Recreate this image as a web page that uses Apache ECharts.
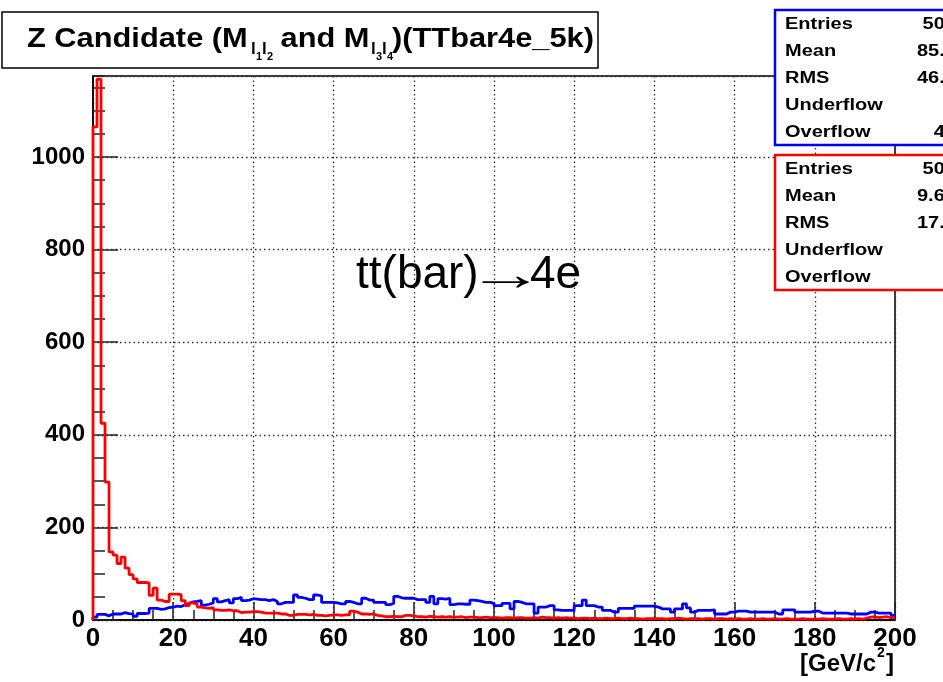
<!DOCTYPE html>
<html><head><meta charset="utf-8">
<script src="https://cdn.jsdelivr.net/npm/echarts@6/dist/echarts.min.js"></script>
<style>html,body{margin:0;padding:0;background:#fff}#c{width:943px;height:682px}</style>
</head><body><div id="c"></div>
<script>
// ---- data (1 GeV bins, 0..200) ----
const binWidth = 1;
const blueCounts = [
 6,12,12,9,13,13,13,16,14,13,
 8,14,14,15,25,25,23,24,27,28,
 30,29,33,36,39,40,42,32,34,37,
 46,39,42,44,37,46,49,42,43,46,
 45,44,44,42,44,40,35,38,38,38,
 54,49,47,44,44,54,52,38,38,38,
 37,35,35,40,38,35,35,47,43,43,
 38,38,38,33,36,51,48,47,47,47,
 44,44,44,38,51,35,46,45,47,33,
 35,35,34,34,43,42,40,38,38,36,
 31,31,36,36,24,40,38,35,35,35,
 15,28,28,31,31,22,21,21,21,21,
 31,31,43,31,31,28,28,21,21,17,
 17,25,25,25,25,30,30,30,30,30,
 28,24,24,24,17,24,24,35,26,17,
 21,21,21,21,22,13,13,13,17,17,
 19,19,19,17,17,17,17,17,17,17,
 13,13,22,22,22,17,17,17,17,19,
 19,15,15,15,15,15,15,15,13,13,
 13,13,13,17,17,15,15,15,15,10];
const redCounts = [
 1065,1168,425,298,147,140,122,136,112,98,
 89,81,81,80,53,69,43,40,40,56,
 56,55,42,31,37,34,28,26,25,27,
 22,21,21,22,20,20,16,17,17,18,
 18,17,15,15,15,15,13,13,10,10,
 12,12,12,11,12,10,10,9,10,11,
 11,10,11,11,19,17,13,13,12,13,
 10,9,7,7,8,7,7,10,10,9,
 7,7,6,8,7,6,7,6,7,6,
 6,7,5,6,6,5,5,6,5,5,
 5,4,5,5,4,5,5,4,4,5,
 4,6,5,5,4,5,4,5,4,4,
 3,4,4,3,4,3,3,4,3,3,
 4,3,3,4,3,3,2,3,3,3,
 3,3,2,3,3,4,3,2,3,3,
 3,2,3,3,2,3,3,2,3,2,
 3,2,2,3,2,2,3,2,2,3,
 2,2,3,2,2,2,3,2,2,2,
 2,3,2,2,2,3,2,2,3,2,
 3,2,4,6,7,5,6,7,5,4];
const statLabels = ['Entries','Mean','RMS','Underflow','Overflow'];
const blueStats = ['5000','85.34','46.51','0','412'];
const redStats = ['5000','9.652','17.33','0','0'];
const annotation = ['tt(bar)', '\u2192', '4e'];
const xUnit = ['[GeV/c', '2', ']'];

// ---- build ----
function hist(counts){
  const d=[[0,0]];
  counts.forEach((v,i)=>d.push([i*binWidth,v]));
  d.push([counts.length*binWidth,counts[counts.length-1]]);
  return d;
}
const FF = '"Liberation Sans", Arial, Helvetica, sans-serif';
const chart = echarts.init(document.getElementById('c'), null, {renderer:'canvas'});

function statBox(color, top, values){
  const els = [{type:'rect', shape:{x:775,y:top,width:220,height:135},
    style:{fill:'#fff',stroke:color,lineWidth:2.5}, z:100}];
  statLabels.forEach((lab,i)=>{
    const y = top+15+i*27;
    els.push({type:'text', x:785, y:y, scaleX:1.25, z:101,
      style:{text:lab, font:'bold 16px '+FF, fill:'#000', verticalAlign:'middle', align:'left'}});
    els.push({type:'text', x:967, y:y, scaleX:1.25, z:101,
      style:{text:values[i], font:'bold 16px '+FF, fill:'#000', verticalAlign:'middle', align:'right'}});
  });
  return els;
}
function t(text,x,y,size,extra){
  return Object.assign({type:'text', x:x, y:y, z:101,
    style:{text:text, font:'bold '+size+'px '+FF, fill:'#000', verticalAlign:'middle', align:'left'}}, extra||{});
}
function plain(text,x,y,size,extra){
  return Object.assign({type:'text', x:x, y:y, z:50,
    style:{text:text, font:size+'px '+FF, fill:'#000', verticalAlign:'middle', align:'left'}}, extra||{});
}
const graphics = [
  {type:'rect', shape:{x:2,y:12,width:596,height:56}, style:{fill:'#fff',stroke:'#000',lineWidth:1.5}, z:100},
  t('Z Candidate (M',27,39,28,{scaleX:1.1}),
  t('l',251,49,17),t('1',256,57,11),t('l',262,49,17),t('2',267,57,11),
  t(' and M',272,39,28,{scaleX:1.1}),
  t('l',371,49,17),t('3',376,57,11),t('l',382,49,17),t('4',387,57,11),
  t(')(TTbar4e_5k)',392,39,28,{scaleX:1.1}),
  plain(annotation[0],356,275,46),
  plain(annotation[1],467,277,46,{scaleX:1.7}),
  plain(annotation[2],530,275,46),
  t(xUnit[0],800,664,24),t(xUnit[1],877,653,14),t(xUnit[2],886,664,24)
].concat(statBox('#0000ff',10,blueStats)).concat(statBox('#ff0000',155,redStats));

chart.setOption({
  animation:false,
  backgroundColor:'#fff',
  grid:{left:93,right:48,top:76,bottom:62,show:true,borderColor:'#000',borderWidth:1.5,backgroundColor:'transparent',containLabel:false,outerBoundsMode:'none'},
  xAxis:{type:'value',min:0,max:200,interval:20,
    axisLine:{lineStyle:{color:'#000',width:1.5}},
    axisTick:{inside:true,length:18,lineStyle:{color:'#222',width:1.5}},
    minorTick:{show:true,splitNumber:4,length:10,lineStyle:{color:'#222',width:1.5}},
    splitLine:{show:true,lineStyle:{color:'#333',type:[1.5,3],width:1.3}},
    axisLabel:{color:'#000',fontWeight:'bold',fontSize:26,fontFamily:FF,margin:6}},
  yAxis:[{type:'value',min:0,max:1175,interval:200,position:'left',
    axisLine:{show:true,lineStyle:{color:'#000',width:1.5}},
    axisTick:{show:true,inside:true,length:25,lineStyle:{color:'#222',width:1.5}},
    splitLine:{show:true,lineStyle:{color:'#333',type:[1.5,3],width:1.3}},
    axisLabel:{color:'#000',fontWeight:'bold',fontSize:24,fontFamily:FF,margin:8,showMaxLabel:false,
      formatter:v=>(v%200===0?String(v):'')}},
   {type:'value',min:0,max:1175,interval:50,position:'left',offset:0,
    axisLine:{show:false},axisLabel:{show:false},splitLine:{show:false},
    axisTick:{show:true,inside:true,length:12,lineStyle:{color:'#222',width:1.5}}}],
  series:[
    {type:'line',step:'end',data:hist(blueCounts),showSymbol:false,symbol:'none',
     lineStyle:{color:'#0000ff',width:2.8},z:3},
    {type:'line',step:'end',data:hist(redCounts),showSymbol:false,symbol:'none',
     lineStyle:{color:'#ff0000',width:2.8},z:4}
  ],
  graphic:graphics
});
</script></body></html>
